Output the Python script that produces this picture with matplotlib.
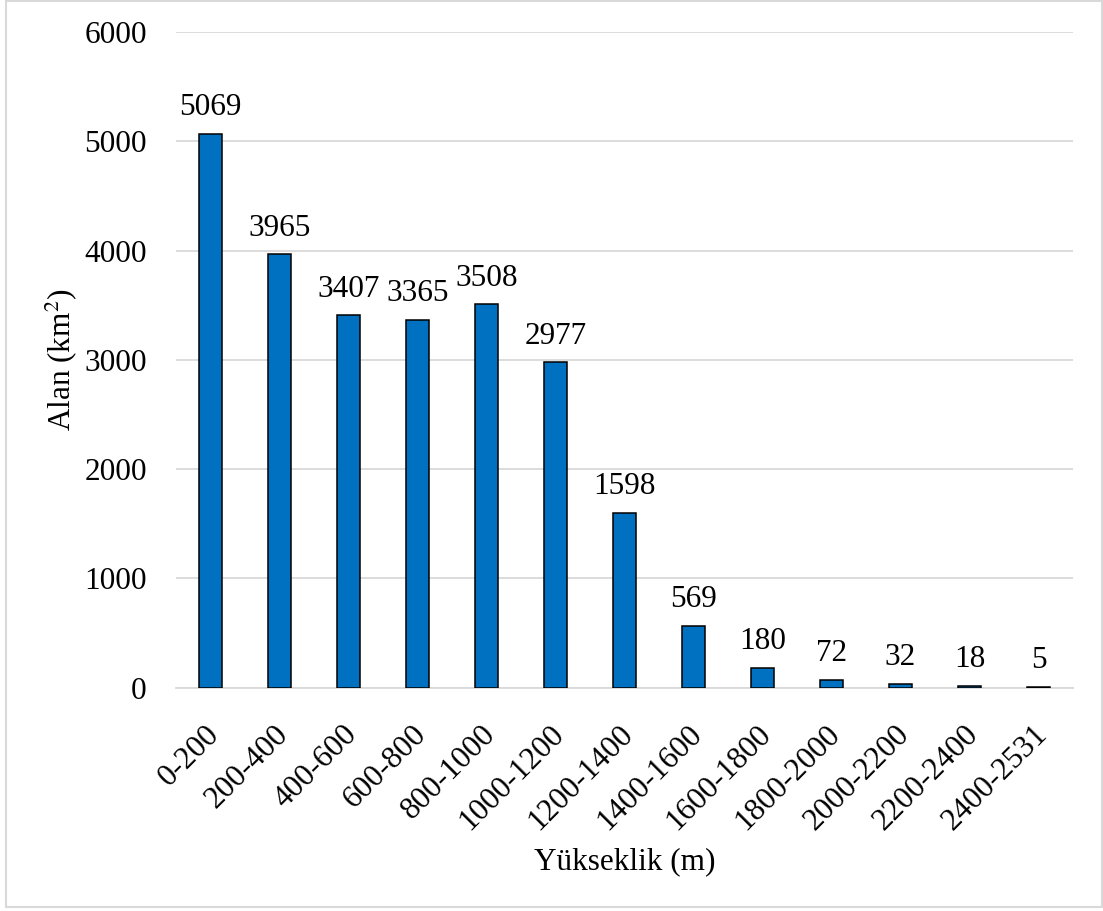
import matplotlib.pyplot as plt
import matplotlib.transforms as mtransforms
import numpy as np

# elevation classes and area values
categories = ['0-200', '200-400', '400-600', '600-800', '800-1000', '1000-1200',
              '1200-1400', '1400-1600', '1600-1800', '1800-2000', '2000-2200',
              '2200-2400', '2400-2531']
areas = [5069, 3965, 3407, 3365, 3508, 2977, 1598, 569, 180, 72, 32, 18, 5]
yticks = [0, 1000, 2000, 3000, 4000, 5000, 6000]

plt.rcParams['font.family'] = ['Liberation Serif', 'DejaVu Serif']
plt.rcParams['mathtext.fontset'] = 'stix'
fs = 22.5

fig = plt.figure(figsize=(11.03, 9.11), dpi=100)
ax = fig.add_axes([0.1596, 0.2451, 0.8132, 0.7198])

x = np.arange(len(categories))
ax.bar(x, areas, width=0.333, color='#0070C0', edgecolor='black', linewidth=1.1, zorder=3)

for xi, v in zip(x, areas):
    ax.annotate(str(v), (xi, v), xytext=(0, 13.5), textcoords='offset points',
                ha='center', va='baseline', fontsize=fs)

ax.set_xlim(-0.5, len(categories) - 0.5)
ax.set_ylim(0, 6000)
ax.set_yticks(yticks)
ax.set_yticklabels([str(t) for t in yticks], fontsize=fs)
ax.set_xticks(x)
ax.set_xticklabels(categories, rotation=45, ha='right', rotation_mode='anchor', fontsize=fs)
ax.tick_params(axis='both', length=0)
ax.tick_params(axis='y', pad=21)
ax.tick_params(axis='x', pad=23)

# nudge rotated tick labels a bit to the left
shift = mtransforms.ScaledTranslation(-6 / 100, 0, fig.dpi_scale_trans)
for lbl in ax.get_xticklabels():
    lbl.set_transform(lbl.get_transform() + shift)

ax.grid(axis='y', color='#D9D9D9', linewidth=1.3, zorder=0)
for s in ['top', 'right', 'left']:
    ax.spines[s].set_visible(False)
ax.spines['bottom'].set_color('#D9D9D9')
ax.spines['bottom'].set_linewidth(1.3)

ax.set_ylabel('Alan (km$^2$)', fontsize=fs, labelpad=4)
ax.set_xlabel('Yükseklik (m)', fontsize=fs, labelpad=8)

# light outer border
fig.patches.append(plt.Rectangle((6 / 1103, 4 / 911), 1096 / 1103, 906 / 911,
                                 transform=fig.transFigure, fill=False,
                                 edgecolor='#D9D9D9', linewidth=1.5))

fig.savefig('out.png', dpi=100)
